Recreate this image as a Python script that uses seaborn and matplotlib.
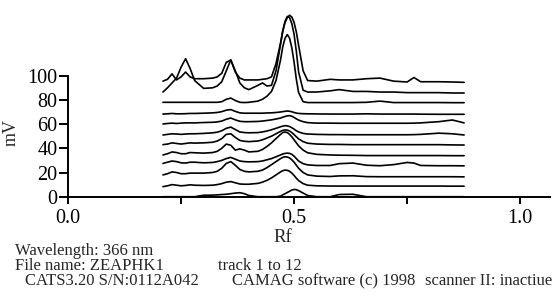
import pandas as pd
import numpy as np
import matplotlib
matplotlib.use('Agg')
import matplotlib.pyplot as plt
import seaborn as sns

# Rf positions shared by all 12 tracks
rf = [0.21, 0.22, 0.23, 0.24, 0.25, 0.26, 0.27, 0.28, 0.30, 0.32,
      0.33, 0.34, 0.35, 0.36, 0.37, 0.38, 0.39, 0.40, 0.42, 0.43,
      0.44, 0.45, 0.46, 0.47, 0.475, 0.48, 0.485, 0.49, 0.495, 0.50,
      0.505, 0.51, 0.52, 0.53, 0.55, 0.58, 0.60, 0.63, 0.66, 0.69,
      0.72, 0.75, 0.765, 0.78, 0.82, 0.85, 0.876]

# signal in mV, one list per track (top to bottom)
track1 = [95.5, 97, 101.5, 96.5, 99, 103, 99, 97.5, 97.5, 98,
          99, 102, 111, 113, 103, 98, 96.5, 96.5, 96.5, 97,
          97.5, 99, 110, 127, 137, 144, 148, 150, 148.5, 144,
          136, 125, 104, 96, 95.5, 97, 96.5, 96.5, 97.5, 98,
          95.5, 94.8, 98.5, 95, 95, 94.8, 94.5]
track2 = [86.5, 90, 94, 98, 107, 114, 106, 96, 89.5, 90,
          91.5, 95, 104, 113, 104, 94, 90, 88.5, 92, 94,
          91.5, 92, 104, 126, 137, 145, 149, 148, 143, 134,
          120, 103, 88, 86.5, 86.5, 87.5, 88.5, 87, 87, 86.5,
          86.5, 86, 86, 86, 86, 85.7, 85.7]
track3 = [78, 78, 78, 78, 78, 78, 78, 78, 78, 78,
          78, 78.5, 80.5, 81.5, 79.5, 78, 77.8, 78, 79, 80.5,
          83, 87, 96, 113, 124, 131, 134, 131, 123, 111,
          97, 86, 78.5, 77.8, 77.8, 77.8, 77.8, 77.8, 78, 79,
          77.8, 77.8, 77.8, 77.8, 77.8, 77.7, 77.7]
track4 = [68.3, 68.5, 68.8, 68.5, 68.5, 68.6, 68.8, 68.8, 69, 69.3,
          69.6, 70.3, 71.5, 72, 70.5, 69.3, 69, 69, 69, 69,
          69.2, 69.3, 69.6, 70, 70.3, 70.6, 70.8, 70.6, 70.2, 69.6,
          69.1, 68.8, 68.6, 68.5, 68.4, 68.3, 68.3, 68.3, 68.5, 68.3,
          68.3, 68.3, 68.3, 68.2, 68.1, 68.1, 68.1]
track5 = [60.1, 60.5, 60.8, 60.5, 60.8, 61, 61, 61, 61.3, 61.5,
          61.8, 62.5, 64, 65, 63.5, 62.3, 62, 62, 62.2, 62.5,
          63, 63.5, 64.2, 65, 65.7, 66.3, 66.8, 67, 66.5, 65.5,
          64.3, 63.3, 62, 61.2, 60.8, 60.8, 60.7, 60.7, 60.7, 60.7,
          60.7, 60.7, 60.8, 61, 62, 63.4, 61]
track6 = [51, 51.5, 52, 51.8, 51.5, 51.8, 52, 52, 52.3, 52.8,
          53.3, 54.5, 56.5, 57.5, 55.5, 53.5, 53, 52.8, 53, 53.5,
          54.3, 55.3, 56.5, 57.8, 58.3, 58.7, 58.5, 58, 57, 55.8,
          54.5, 53.5, 52.3, 51.8, 51.5, 51.3, 51.3, 51.2, 51.2, 51.2,
          51.2, 51.2, 51.3, 51.5, 52.5, 52, 51]
track7 = [43, 43.5, 44.5, 44, 43.5, 44, 44.5, 44.3, 44.5, 45,
          46, 48, 51.5, 52, 49, 46.5, 45.8, 45.5, 46, 47,
          48.5, 50, 52, 54, 54.8, 55.2, 55, 54.3, 53, 51.3,
          49.5, 47.8, 45.5, 44.2, 43.5, 43.2, 43.2, 43, 43, 43,
          43, 43, 43, 43, 43, 42.8, 42.7]
track8 = [34.5, 35.5, 37, 36.5, 35.5, 35.5, 36.5, 36.3, 36, 36.5,
          37.5, 40, 43.5, 42.5, 38.5, 39.5, 38.5, 37, 37.5, 39,
          41.5, 44.5, 48, 51.5, 53, 53.5, 53, 51.5, 49.5, 47,
          44.5, 42, 38.5, 36.3, 35, 34.5, 34.3, 34.2, 34, 34,
          34, 34, 34, 34, 34, 33.9, 33.9]
track9 = [27.5, 28.5, 29.5, 29, 28, 27.8, 28.5, 28.5, 28, 28.3,
          29, 30, 31.5, 32.5, 31, 29.5, 29, 28.8, 29, 29.5,
          30.5, 31.5, 33, 34.5, 35.3, 35.8, 36, 35.8, 35, 33.5,
          31.5, 29.5, 27.3, 26.3, 25.8, 25.8, 27.3, 27.8, 26, 25.6,
          26.5, 28.3, 27.8, 25.8, 25.6, 25.6, 25.5]
track10 = [18, 19, 20.5, 20, 19, 19, 19.5, 19.5, 19.5, 20,
           21, 23.5, 27.5, 29, 26, 22.5, 21, 20.5, 21, 22,
           24, 26.5, 29, 31.5, 32.5, 33, 32.8, 32, 30.5, 28.5,
           26, 23.5, 20, 18, 17, 16.7, 17.2, 17.3, 16.6, 16.5,
           16.5, 16.5, 16.5, 16.5, 16.5, 16.5, 16.4]
track11 = [8.3, 9, 10, 9.5, 9, 9.3, 9.8, 9.5, 9.3, 9.5,
           10, 10.8, 12, 12.5, 11.5, 10.5, 10.3, 10.3, 11, 12,
           13.5, 15.5, 18, 20.5, 21.5, 22, 21.8, 21, 19.5, 17.5,
           15.3, 13.3, 10.8, 9.5, 9, 8.8, 8.8, 8.8, 8.8, 8.8,
           8.8, 8.8, 8.8, 8.8, 8.8, 8.7, 8.7]
track12 = [0, 0, 0, 0, 0, 0, 0, 0, 1.2, 1.3,
           1.5, 1.8, 2, 2.5, 3, 3.3, 2.5, 1, 0, 0,
           0, 0, 0, 0.5, 1.5, 2.5, 3.5, 4.5, 5.5, 6,
           5.8, 5, 3, 1, 0, 0, 1.8, 2, 0, 0,
           0, 0, 0, 0, 0, 0, 0]

tracks = [track1, track2, track3, track4, track5, track6,
          track7, track8, track9, track10, track11, track12]

rows = []
for i, vals in enumerate(tracks):
    for x, y in zip(rf, vals):
        rows.append({'rf': x, 'mv': y, 'track': i + 1})
df = pd.DataFrame(rows)

sns.set_style('white')
plt.rcParams['font.family'] = ['Liberation Serif', 'DejaVu Serif']

fig = plt.figure(figsize=(5.53, 2.97), dpi=100)
ax = fig.add_axes([0.123, 0.3377, 0.8716, 0.6519])

sns.lineplot(data=df, x='rf', y='mv', hue='track', palette=['black'] * 12,
             legend=False, estimator=None, sort=False, linewidth=1.2, ax=ax)

ax.set_xlim(0, 1.066)
ax.set_ylim(0, 160)

# axes look of the scanner printout
for s in ['top', 'right']:
    ax.spines[s].set_visible(False)
for s in ['left', 'bottom']:
    ax.spines[s].set_linewidth(1.4)
    ax.spines[s].set_color('black')
ax.spines['left'].set_bounds(0, 100)

ax.set_yticks([0, 20, 40, 60, 80, 100])
ax.set_xticks([0, 0.25, 0.5, 0.75, 1.0])
ax.set_xticklabels(['0.0', '', '0.5', '', '1.0'])
ax.tick_params(axis='both', direction='out', width=1.4, colors='black',
               labelsize=14.5, left=True, bottom=True)
ax.tick_params(axis='y', length=6.5, pad=1)
ax.tick_params(axis='x', length=5, pad=4)

ax.set_xlabel('Rf', fontsize=13.5)
ax.set_ylabel('mV', fontsize=13)
ax.xaxis.set_label_coords(0.446, -0.165)
ax.yaxis.set_label_coords(-0.1, 0.33)

# footer printed by the scanner software
W, H = 553, 297
fs = 12
fig.text(15 / W, 1 - 251 / H, 'Wavelength: 366 nm', fontsize=fs, va='center')
fig.text(15 / W, 1 - 266 / H, 'File name: ZEAPHK1', fontsize=fs, va='center')
fig.text(218 / W, 1 - 266 / H, 'track 1 to 12', fontsize=fs, va='center')
fig.text(25 / W, 1 - 281 / H, 'CATS3.20 S/N:0112A042', fontsize=fs, va='center')
fig.text(232 / W, 1 - 281 / H, 'CAMAG software (c) 1998', fontsize=fs, va='center')
fig.text(425 / W, 1 - 281 / H, 'scanner II: inactiue', fontsize=fs, va='center')

fig.savefig('out.png', dpi=100)
